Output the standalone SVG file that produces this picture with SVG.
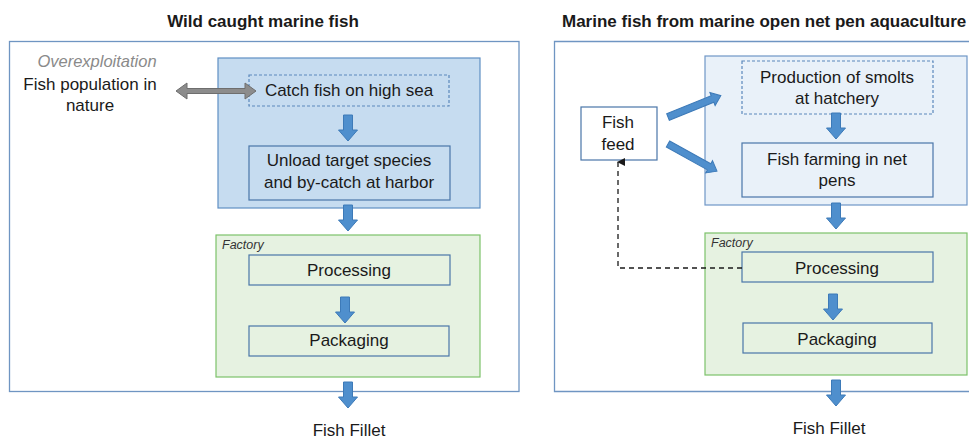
<svg xmlns="http://www.w3.org/2000/svg" width="969" height="439" viewBox="0 0 969 439">
<defs>
<style>
text{font-family:"Liberation Sans",Arial,sans-serif;font-size:17px;fill:#1a1a1a}
.title{font-weight:bold;font-size:17px}
.c{text-anchor:middle}
.it{font-style:italic}
.grey{fill:#8a8a8a;font-size:16.5px}
.small{font-size:12.5px;font-style:italic;fill:#333}
.frame{fill:none;stroke:#6f95c2;stroke-width:1.3}
.blue{fill:#c6dcf0;stroke:#5f8fc4;stroke-width:1.2}
.lblue{fill:#e9f1f9;stroke:#6f97c6;stroke-width:1.2}
.green{fill:#e6f2e1;stroke:#7cc26a;stroke-width:1.2}
.box{fill:none;stroke:#4a76a8;stroke-width:1.2}
.wbox{fill:#fff;stroke:#4a76a8;stroke-width:1.2}
.dbox{fill:none;stroke:#5b88bb;stroke-width:1.2;stroke-dasharray:3 2}
.arr{fill:#4f8fcd;stroke:#3d7ab8;stroke-width:1}
.garr{fill:#8c8c8c;stroke:#6e6e6e;stroke-width:1}
.dash{fill:none;stroke:#1a1a1a;stroke-width:1.3;stroke-dasharray:5 4}
</style>
<path id="down" d="M-4.5,0 H4.5 V15 H9.5 L0,26 L-9.5,15 H-4.5 Z"/>
<marker id="tip" viewBox="0 0 8 8" refX="4" refY="1" markerWidth="8" markerHeight="8" markerUnits="userSpaceOnUse" orient="auto-start-reverse">
<path d="M0,8 L4,0 L8,8 Z" fill="#1a1a1a"/>
</marker>
</defs>

<!-- Left panel -->
<g id="left-panel">
<text class="title c" x="263" y="27">Wild caught marine fish</text>
<rect class="frame" x="9.5" y="41.5" width="509.5" height="350"/>
</g>
<g id="sea-group"><rect class="blue" x="218" y="58" width="262" height="150"/></g>
<g id="factory-left"><rect class="green" x="216" y="235" width="264" height="142"/>
<text class="small" x="222" y="249">Factory</text></g>
<g id="fish-population">
<text class="c it grey" x="97" y="67">Overexploitation</text>
<text class="c" x="90" y="90">Fish population in</text>
<text class="c" x="90" y="111">nature</text>
</g>
<g id="catch"><rect class="dbox" x="249" y="75" width="200" height="31"/>
<text class="c" x="349" y="96">Catch fish on high sea</text></g>
<g id="unload"><rect class="box" x="249" y="146" width="201" height="54"/>
<text class="c" x="349" y="166">Unload target species</text>
<text class="c" x="349" y="188">and by-catch at harbor</text></g>
<g id="processing-left"><rect class="box" x="249" y="255" width="201" height="30"/>
<text class="c" x="349" y="276">Processing</text></g>
<g id="packaging-left"><rect class="box" x="249" y="326" width="200" height="30"/>
<text class="c" x="349" y="346">Packaging</text></g>
<g id="fillet-left"><text class="c" x="349" y="436">Fish Fillet</text></g>

<!-- Right panel -->
<g id="right-panel">
<text class="title" x="562" y="27">Marine fish from marine open net pen aquaculture</text>
<path class="frame" d="M975,41.5 H554.5 V391.5 H975"/>
</g>
<g id="farm-group"><rect class="lblue" x="705" y="56" width="262" height="149"/></g>
<g id="factory-right"><rect class="green" x="705" y="233" width="262" height="142"/>
<text class="small" x="711" y="247">Factory</text></g>
<g id="fish-feed"><rect class="wbox" x="581" y="107" width="76" height="53"/>
<text class="c" x="618" y="128">Fish</text>
<text class="c" x="618" y="150">feed</text></g>
<g id="smolts"><rect class="dbox" x="742" y="61" width="191" height="53"/>
<text class="c" x="837" y="83">Production of smolts</text>
<text class="c" x="837" y="104">at hatchery</text></g>
<g id="farming"><rect class="box" x="742" y="143" width="191" height="54"/>
<text class="c" x="837" y="165">Fish farming in net</text>
<text class="c" x="837" y="186">pens</text></g>
<g id="processing-right"><rect class="box" x="742" y="252" width="191" height="30"/>
<text class="c" x="837" y="274">Processing</text></g>
<g id="packaging-right"><rect class="box" x="743" y="323" width="189" height="30"/>
<text class="c" x="837" y="345">Packaging</text></g>
<g id="fillet-right"><text class="c" x="829" y="434">Fish Fillet</text></g>

<!-- Connectors -->
<g id="connectors">
<path class="garr" d="M176,91 L187,83 V88.5 H245 V83 L256,91 L245,99 V93.5 H187 V99 Z"/>
<use href="#down" class="arr" x="348" y="115"/>
<use href="#down" class="arr" x="348" y="205"/>
<use href="#down" class="arr" x="345" y="297"/>
<use href="#down" class="arr" x="348" y="382"/>
<use href="#down" class="arr" x="836" y="113"/>
<use href="#down" class="arr" x="836" y="203"/>
<use href="#down" class="arr" x="833" y="294"/>
<use href="#down" class="arr" x="836" y="380"/>
<path class="arr" transform="translate(668,117) rotate(-22)" d="M0,-3.5 H48 V-7 L57,0 L48,7 V3.5 H0 Z"/>
<path class="arr" transform="translate(668,144) rotate(29)" d="M0,-3.5 H47 V-7 L56,0 L47,7 V3.5 H0 Z"/>
<path class="dash" d="M742,268 H618 V162" marker-end="url(#tip)"/>
</g>
</svg>
